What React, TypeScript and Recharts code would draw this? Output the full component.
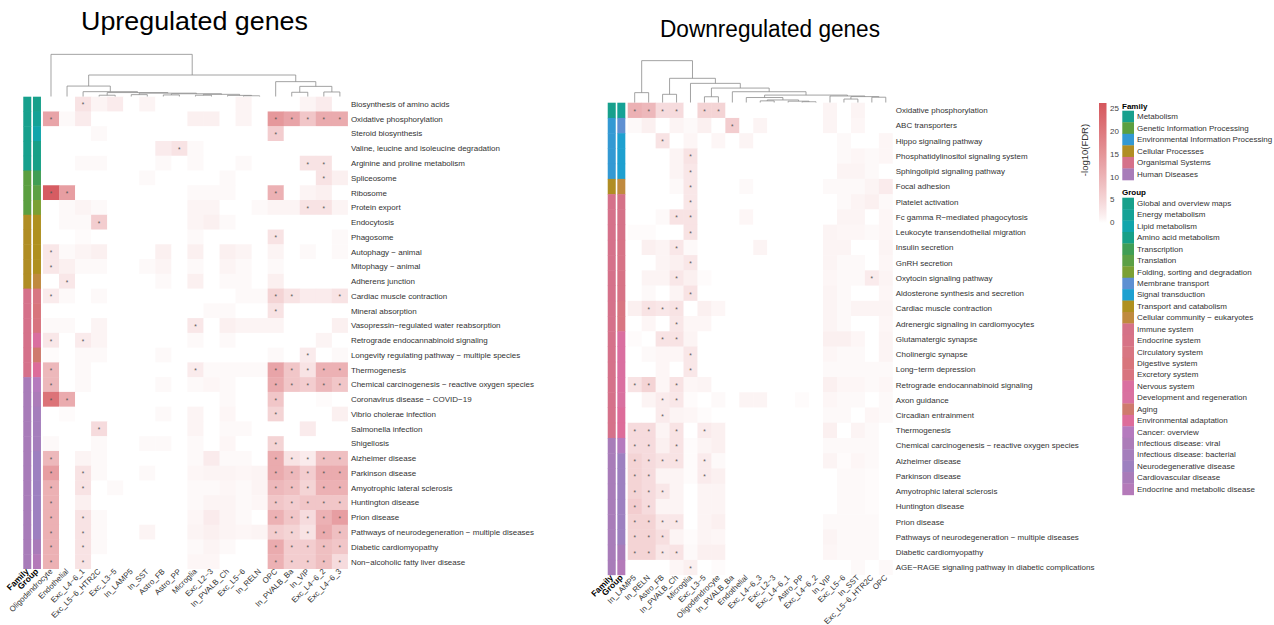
import React from 'react';
import { ScatterChart, Scatter, XAxis, YAxis, ReferenceLine } from 'recharts';

const FONT = '"Liberation Sans", Arial, Helvetica, sans-serif';
const M = '\u2212';

// ---------------- Upregulated genes ----------------
const upColumns = ['Oligodendrocyte', 'Endothelial', `Exc_L4${M}6_1`, `Exc_L5${M}6_HTR2C`, `Exc_L3${M}5`, 'In_LAMP5', 'In_SST', 'Astro_FB', 'Astro_PP', 'Microglia', `Exc_L2${M}3`, 'In_PVALB_Ch', `Exc_L5${M}6`, 'In_RELN', 'OPC', 'In_PVALB_Ba', 'In_VIP', `Exc_L4${M}6_2`, `Exc_L4${M}6_3`];

const upRows = ['Biosynthesis of amino acids', 'Oxidative phosphorylation', 'Steroid biosynthesis', 'Valine, leucine and isoleucine degradation', 'Arginine and proline metabolism', 'Spliceosome', 'Ribosome', 'Protein export', 'Endocytosis', 'Phagosome', `Autophagy ${M} animal`, `Mitophagy ${M} animal`, 'Adherens junction', 'Cardiac muscle contraction', 'Mineral absorption', `Vasopressin${M}regulated water reabsorption`, 'Retrograde endocannabinoid signaling', `Longevity regulating pathway ${M} multiple species`, 'Thermogenesis', `Chemical carcinogenesis ${M} reactive oxygen species`, `Coronavirus disease ${M} COVID${M}19`, 'Vibrio cholerae infection', 'Salmonella infection', 'Shigellosis', 'Alzheimer disease', 'Parkinson disease', 'Amyotrophic lateral sclerosis', 'Huntington disease', 'Prion disease', `Pathways of neurodegeneration ${M} multiple diseases`, 'Diabetic cardiomyopathy', `Non${M}alcoholic fatty liver disease`];

const upFamily = ['Metabolism', 'Metabolism', 'Metabolism', 'Metabolism', 'Metabolism', 'Genetic', 'Genetic', 'Genetic', 'Cellular', 'Cellular', 'Cellular', 'Cellular', 'Cellular', 'Organismal', 'Organismal', 'Organismal', 'Organismal', 'Organismal', 'Organismal', 'Human', 'Human', 'Human', 'Human', 'Human', 'Human', 'Human', 'Human', 'Human', 'Human', 'Human', 'Human', 'Human'];

const upGroup = ['Global and overview maps', 'Energy metabolism', 'Lipid metabolism', 'Amino acid metabolism', 'Amino acid metabolism', 'Transcription', 'Translation', 'Folding, sorting and degradation', 'Transport and catabolism', 'Transport and catabolism', 'Transport and catabolism', 'Transport and catabolism', `Cellular community ${M} eukaryotes`, 'Circulatory system', 'Digestive system', 'Excretory system', 'Nervous system', 'Aging', 'Environmental adaptation', 'Cancer: overview', 'Infectious disease: viral', 'Infectious disease: bacterial', 'Infectious disease: bacterial', 'Infectious disease: bacterial', 'Neurodegenerative disease', 'Neurodegenerative disease', 'Neurodegenerative disease', 'Neurodegenerative disease', 'Neurodegenerative disease', 'Neurodegenerative disease', 'Cardiovascular disease', 'Endocrine and metabolic disease'];

const upValues: number[][] = [
  [0, 0, 3, 1, 2, 0, 1, 0, 0, 0, 0, 0, 1, 0, 0, 0, 1, 2, 0],
  [12, 0.5, 2, 0, 0, 0, 0, 0, 0, 1.5, 1.5, 0, 1, 0, 14, 12, 7, 11, 11],
  [0, 0, 0, 0.5, 0, 0, 0, 0, 0, 0, 0, 0, 0, 0, 6, 0, 0, 0, 0],
  [0, 0, 0, 0, 0, 0, 0, 2, 3, 0.5, 0, 0, 0, 0, 0, 0, 0, 0, 0],
  [0, 0, 0.5, 0.5, 0, 0, 0, 0.5, 0, 0.5, 0, 0, 0.5, 0, 0, 0, 3, 3, 0],
  [0, 0, 0, 0, 0, 0, 0.5, 0, 0, 0, 0, 0.5, 0, 0, 0, 0, 0, 3, 1.5],
  [24, 13, 0, 0, 0, 0, 0, 0, 0, 0.5, 0.5, 0.5, 0, 0, 10, 0, 1, 1.5, 0],
  [0, 0.5, 1, 0.5, 0, 0, 0, 0, 0, 1, 1, 0, 0, 0.5, 1, 1, 3, 3, 1],
  [0, 0.5, 0.5, 6, 0, 0, 0, 0, 0, 1, 1.5, 0.5, 0, 0, 0, 0, 0, 0, 0],
  [0, 0, 0.3, 0, 0, 0, 0, 0, 0, 0.5, 0, 0, 0, 0, 3, 0, 0, 0, 0.5],
  [2.5, 0.5, 1, 1.5, 0, 0, 0, 1.5, 0, 1.5, 0, 1.5, 1, 0, 1, 0, 0.5, 0, 0.5],
  [2.5, 1.5, 0.5, 0.5, 0, 0, 0.5, 1, 0, 0.5, 0, 1, 0.5, 0, 0.5, 0, 0, 0, 0],
  [0, 2.5, 0, 0, 0, 0, 0, 0.5, 0, 1.5, 0, 0.5, 0.5, 0, 1.5, 0, 0, 0, 0],
  [2, 0.5, 0, 0.5, 0, 0, 0, 0, 0, 0, 0, 0, 0.5, 0.5, 5, 3, 2, 2, 3],
  [0, 0, 0, 0, 0, 0, 0, 0, 0, 0, 0.5, 0.5, 0, 0, 3, 0, 0, 0, 0],
  [0.5, 0.5, 0, 1, 0, 0, 0, 0, 0, 2.5, 0, 1.5, 1, 1, 1, 0, 0, 0, 1.5],
  [2.5, 0, 2, 1, 0, 0, 0, 0, 0, 0.5, 0, 0.5, 0, 0, 0, 0, 0, 1, 0],
  [0.3, 0, 0.5, 0.5, 0, 0, 0, 0.5, 0, 0, 0, 0, 0, 0, 0.5, 0, 2, 0, 0.5],
  [9, 0, 0.5, 0, 0, 0, 0, 0, 0, 2, 0.5, 0.5, 0.5, 0.5, 12, 7, 3, 10, 10],
  [9, 0, 0.5, 0, 0, 0, 0, 0.5, 0, 0.5, 0.8, 0.5, 0, 0, 11, 7, 6, 9, 7],
  [20, 11, 0, 0, 0, 0, 0, 0, 0, 0, 0, 0.5, 0, 0, 7, 0, 0, 0.3, 0],
  [0, 0.3, 0, 0, 0, 0, 0, 0.5, 0, 1, 0, 0.8, 0, 0, 5, 0, 0, 0, 1.5],
  [0, 0, 0, 4, 0, 0, 0, 0, 0, 1, 0, 0.5, 0.5, 0, 0, 0, 2, 0, 0],
  [0.5, 0, 0, 0.5, 0, 0, 0.5, 0.5, 0, 0.5, 0, 0.8, 0, 0, 5, 0, 0, 0, 0],
  [9, 0, 1, 0.5, 0, 0, 0, 0, 0, 0.5, 2, 0.5, 0.5, 0, 11, 3, 2, 8, 8],
  [13, 0, 3, 0.5, 0, 0, 0.5, 0, 0, 0.8, 1, 1, 0.8, 1, 11, 9, 6, 11, 11],
  [10, 0, 3, 0, 0.5, 0, 0, 0, 0, 0.5, 0.5, 0.8, 0.5, 1, 9, 8, 5, 10, 10],
  [10, 0, 1.5, 0, 0, 0, 0, 0, 0, 0.5, 1, 1, 0.5, 0.8, 7, 6, 7, 7, 7],
  [10, 0, 3, 0.5, 0, 0, 0, 0, 0, 0.8, 2, 1, 0.5, 0, 10, 7, 4, 10, 13],
  [10, 0, 3, 0.5, 0, 0, 1, 0, 0, 1, 1.5, 1, 0.8, 1, 6, 5, 3, 11, 8],
  [10, 0, 3, 0.5, 0, 0, 0, 0, 0, 0.5, 1, 0.5, 0, 0, 11, 6, 6, 8, 7],
  [10, 0, 3, 0, 0, 0, 0, 0, 0, 0.8, 0.8, 0, 0, 0, 10, 6, 6, 8, 4],
];

const upStars: number[][] = [
  [2], [0, 14, 15, 16, 17, 18], [14], [8], [16, 17], [17], [0, 1, 14], [16, 17], [3], [14], [0], [0], [1],
  [0, 14, 15, 18], [14], [9], [0, 2], [16], [0, 9, 14, 15, 16, 17, 18], [0, 14, 15, 16, 17, 18], [0, 1, 14], [14], [3], [14],
  [0, 14, 15, 16, 17, 18], [0, 2, 14, 15, 16, 17, 18], [0, 2, 14, 15, 16, 17, 18], [0, 14, 15, 16, 17, 18],
  [0, 2, 14, 15, 16, 17, 18], [0, 2, 14, 15, 16, 17, 18], [0, 2, 14, 15, 16, 17, 18], [0, 2, 14, 15, 16, 17, 18],
];

type Tree = number | [Tree, Tree, number];
// column dendrogram: [left, right, merge height]
const upTree: Tree = [0, [[1, [2, [[3, 4, 0.1], [[5, 6, 0.14], [[7, 8, 0.12], [[9, 10, 0.1], [11, [12, 13, 0.06], 0.09], 0.16], 0.2], 0.24], 0.28], 0.34], 0.72], [14, [[15, 16, 0.3], [17, 18, 0.32], 0.7], 1.02], 1.47], 2.87];

// ---------------- Downregulated genes ----------------
const downColumns = ['In_LAMP5', 'In_RELN', 'Astro_FB', 'In_PVALB_Ch', 'Microglia', `Exc_L3${M}5`, 'Oligodendrocyte', 'In_PVALB_Ba', 'Endothelial', `Exc_L4${M}6_3`, `Exc_L2${M}3`, `Exc_L4${M}6_1`, 'Astro_PP', `Exc_L4${M}6_2`, 'In_VIP', `Exc_L5${M}6`, 'In_SST', `Exc_L5${M}6_HTR2C`, 'OPC'];

const downRows = ['Oxidative phosphorylation', 'ABC transporters', 'Hippo signaling pathway', 'Phosphatidylinositol signaling system', 'Sphingolipid signaling pathway', 'Focal adhesion', 'Platelet activation', `Fc gamma R${M}mediated phagocytosis`, 'Leukocyte transendothelial migration', 'Insulin secretion', 'GnRH secretion', 'Oxytocin signaling pathway', 'Aldosterone synthesis and secretion', 'Cardiac muscle contraction', 'Adrenergic signaling in cardiomyocytes', 'Glutamatergic synapse', 'Cholinergic synapse', `Long${M}term depression`, 'Retrograde endocannabinoid signaling', 'Axon guidance', 'Circadian entrainment', 'Thermogenesis', `Chemical carcinogenesis ${M} reactive oxygen species`, 'Alzheimer disease', 'Parkinson disease', 'Amyotrophic lateral sclerosis', 'Huntington disease', 'Prion disease', `Pathways of neurodegeneration ${M} multiple diseases`, 'Diabetic cardiomyopathy', `AGE${M}RAGE signaling pathway in diabetic complications`];

const downFamily = ['Metabolism', 'Environmental', 'Environmental', 'Environmental', 'Environmental', 'Cellular', 'Organismal', 'Organismal', 'Organismal', 'Organismal', 'Organismal', 'Organismal', 'Organismal', 'Organismal', 'Organismal', 'Organismal', 'Organismal', 'Organismal', 'Organismal', 'Organismal', 'Organismal', 'Organismal', 'Human', 'Human', 'Human', 'Human', 'Human', 'Human', 'Human', 'Human', 'Human'];

const downGroup = ['Energy metabolism', 'Membrane transport', 'Signal transduction', 'Signal transduction', 'Signal transduction', `Cellular community ${M} eukaryotes`, 'Immune system', 'Immune system', 'Immune system', 'Endocrine system', 'Endocrine system', 'Endocrine system', 'Endocrine system', 'Circulatory system', 'Circulatory system', 'Nervous system', 'Nervous system', 'Nervous system', 'Nervous system', 'Development and regeneration', 'Environmental adaptation', 'Environmental adaptation', 'Cancer: overview', 'Neurodegenerative disease', 'Neurodegenerative disease', 'Neurodegenerative disease', 'Neurodegenerative disease', 'Neurodegenerative disease', 'Neurodegenerative disease', 'Cardiovascular disease', 'Endocrine and metabolic disease'];

const downValues: number[][] = [
  [10, 9, 4, 4, 0, 5, 5, 0, 0, 0, 0, 0, 0, 0, 1, 0, 1, 0, 0],
  [0.5, 1.5, 0, 1, 0.5, 1.5, 0, 6, 0, 1, 0, 0, 0, 0, 1, 0, 0.8, 0, 0],
  [0, 0, 3, 0, 0.8, 0, 0.8, 0, 1, 0, 0, 0, 0, 0, 0, 0.5, 0, 0, 0.8],
  [0, 0, 0, 1, 3, 0, 0, 0, 0, 0, 0, 0, 0, 0, 0, 0.5, 0.8, 0.5, 0.8],
  [0, 0, 0, 1, 2.5, 0, 0, 0, 0, 0, 0, 0, 0, 0, 0, 1, 1, 0.5, 0],
  [0, 0, 0, 0.5, 2.5, 0, 0, 0, 0.5, 0, 0, 0, 0, 0, 0.5, 0.5, 0.5, 1, 2],
  [0, 0, 0, 0, 2.5, 0, 0, 0, 0, 0, 0, 0, 0, 0, 0, 0.5, 1, 1.5, 0.5],
  [0, 0, 0.5, 3, 3, 0, 0, 0, 0.8, 0, 0, 0, 0, 0, 0, 1, 1, 0, 0.8],
  [0.3, 0.3, 0, 0, 3, 0, 0, 0, 0, 0, 0, 0, 0, 0, 1, 0.8, 0.8, 0.5, 0.8],
  [0, 1.5, 1, 2.5, 0.5, 0, 0, 0, 0, 1, 0, 0, 0, 0, 1, 1, 0, 0, 1],
  [0, 0, 1, 1.5, 2.5, 0, 0, 0, 0, 0, 0, 0, 0, 0, 1, 0.5, 0.5, 0, 0.8],
  [0, 1, 1, 2.5, 1.5, 0.3, 0, 0, 0, 0, 0, 0, 0, 0, 0.8, 0.5, 0.5, 2, 1],
  [0, 0.5, 0, 1, 3, 0, 0, 0, 0, 0, 0, 0, 0, 0, 1, 0.5, 0, 0, 0.8],
  [1.5, 3, 2.5, 3, 0, 1.5, 0.8, 0, 0, 0, 0, 0, 0, 0, 1, 0.5, 1, 1, 1],
  [0, 0.8, 0, 2.5, 0.8, 0.8, 0, 0, 0, 0, 0, 0, 0, 0, 1, 0.5, 0, 0, 0.8],
  [0.3, 0, 3, 3, 1, 0, 0, 0, 0, 0, 0, 0, 0, 0, 1.5, 1.5, 0.8, 0, 1],
  [0, 0.5, 0.8, 0.8, 2.5, 0, 0, 0, 0, 0, 0, 0, 0, 0, 0.8, 0.5, 0.5, 0, 1],
  [0, 0, 0.8, 0, 2.5, 0, 0, 0, 0, 0, 0, 0, 0, 0, 0.5, 0.5, 0.5, 0.5, 0.5],
  [3, 5, 0.8, 3, 0.8, 1, 0, 0, 0, 0, 0, 0, 0, 0, 1.5, 0.8, 0.8, 0.5, 0.8],
  [0, 1, 2, 2.5, 0.3, 0, 0.5, 0, 1, 1, 0, 0, 0.3, 0, 0.8, 0.5, 0.5, 0, 0.5],
  [0, 0, 2, 1, 0.8, 0.3, 0, 0, 0, 0, 0, 0, 0, 0, 0.5, 0.5, 0, 0.8, 0.5],
  [4, 4, 1, 3, 0, 2, 1.5, 0, 0, 0, 0, 0, 0, 0, 1.5, 0, 1, 0.5, 0],
  [4, 4, 1.5, 3, 0.3, 1, 1.5, 0, 0, 0, 0, 0, 0, 0, 0.5, 0.5, 0.5, 0.5, 0],
  [5, 4, 3, 3, 0.3, 2, 0.5, 0, 0, 0, 0, 0, 0, 0, 1, 0.3, 0.8, 0.5, 0],
  [5, 4, 1, 1, 0.3, 2, 1.5, 0, 0, 0, 0, 0, 0, 0, 0, 0.5, 0.5, 0.3, 0],
  [5, 4, 2.5, 1, 0, 1, 1, 0, 0, 0, 0, 0, 0, 0, 0, 0.5, 0.5, 0.3, 0],
  [6, 4, 1, 1, 0, 1, 1, 0, 0, 0, 0, 0, 0, 0, 0, 0.5, 0.5, 0.3, 0],
  [5, 5, 2.5, 2.5, 0, 1, 1.5, 0, 0, 0, 0, 0, 0, 0, 0.5, 0.5, 0.5, 0.5, 0],
  [5, 5, 3.5, 1, 0.3, 1, 0.8, 0, 0, 0, 0, 0, 0, 0, 1, 0.5, 0.5, 0.5, 0],
  [5, 5, 2.5, 3, 0.5, 1.5, 1.5, 0, 0, 0, 0, 0, 0, 0, 0.8, 0.5, 0.5, 0.5, 0],
  [0, 0, 0, 0.8, 1.5, 0, 0.3, 0, 0, 0, 0, 0, 0, 0, 0, 0, 0.5, 0, 0.5],
];

const downStars: number[][] = [
  [0, 1, 2, 3, 5, 6], [7], [2], [4], [4], [4], [4], [3, 4], [4], [3], [4], [3, 17], [4], [1, 2, 3], [3], [2, 3],
  [4], [4], [0, 1, 3], [2, 3], [2], [0, 1, 3, 5], [0, 1, 3], [0, 1, 2, 3, 5], [0, 1, 5], [0, 1, 2], [0, 1],
  [0, 1, 2, 3], [0, 1, 2], [0, 1, 2, 3], [4],
];

const downTree: Tree = [[0, 1, 0.66], [[2, 3, 0.55], [4, [[5, 6, 0.39], [7, [[8, [[9, 10, 0.12], [11, [12, 13, 0.06], 0.1], 0.18], 0.34], [14, [[15, 16, 0.24], [17, 18, 0.36], 0.4], 0.44], 0.5], 0.72], 0.96], 1.27], 1.6], 2.76];

// ---------------- Annotation legends ----------------
const familyKeys = ['Metabolism', 'Genetic', 'Environmental', 'Cellular', 'Organismal', 'Human'];
const familyLabels = ['Metabolism', 'Genetic Information Processing', 'Environmental Information Processing', 'Cellular Processes', 'Organismal Systems', 'Human Diseases'];
const familyColors = ['#17A08D', '#5B9F40', '#3399D3', '#B08D24', '#D5718A', '#A87CB9'];

const groupLabels = ['Global and overview maps', 'Energy metabolism', 'Lipid metabolism', 'Amino acid metabolism', 'Transcription', 'Translation', 'Folding, sorting and degradation', 'Membrane transport', 'Signal transduction', 'Transport and catabolism', `Cellular community ${M} eukaryotes`, 'Immune system', 'Endocrine system', 'Circulatory system', 'Digestive system', 'Excretory system', 'Nervous system', 'Development and regeneration', 'Aging', 'Environmental adaptation', 'Cancer: overview', 'Infectious disease: viral', 'Infectious disease: bacterial', 'Neurodegenerative disease', 'Cardiovascular disease', 'Endocrine and metabolic disease'];
const groupColors = ['#18A08B', '#15A296', '#11A5AB', '#17A087', '#409E55', '#5CA045', '#7BA034', '#5E90D2', '#1EA0D0', '#AF901F', '#C08A3F', '#D57288', '#D77386', '#D87682', '#D8757C', '#D8747F', '#DA6FA0', '#D971A0', '#CF7A6D', '#DD6C9A', '#B57ABE', '#AC7CB9', '#A57EBC', '#9D80C0', '#A97BB9', '#B47AB9'];

const colorTicks = [0, 5, 10, 15, 20, 25];

// ---------------- helpers ----------------
const famColor = (k: string) => familyColors[familyKeys.indexOf(k)];
const grpColor = (k: string) => groupColors[groupLabels.indexOf(k)];

const LOW = [255, 255, 255];
const HIGH = [213, 86, 92];
function heatColor(v: number) {
  const t = Math.min(1, Math.pow(Math.max(0, v) / 25, 0.85));
  const c = LOW.map((l, i) => Math.round(l + (HIGH[i] - l) * t));
  return `rgb(${c[0]},${c[1]},${c[2]})`;
}

type Seg = [number, number, number, number];
function walk(t: Tree, segs: Seg[]): { x: number; h: number } {
  if (typeof t === 'number') return { x: t + 0.5, h: 0 };
  const a = walk(t[0], segs);
  const b = walk(t[1], segs);
  const h = t[2];
  segs.push([a.x, -a.h, a.x, -h]);
  segs.push([b.x, -b.h, b.x, -h]);
  segs.push([a.x, -h, b.x, -h]);
  return { x: (a.x + b.x) / 2, h };
}

type Geo = {
  divLeft: number; plotLeft: number; plotTop: number; colW: number; rowH: number;
  xMin: number; yMin: number; famX: number; grpX: number; barW: number; labelW: number;
};

function HeatPanel(props: {
  columns: string[]; rows: string[]; values: number[][]; stars: number[][];
  family: string[]; group: string[]; tree: Tree; geo: Geo;
}) {
  const { columns, rows, values, stars, family, group, tree, geo } = props;
  const ncol = columns.length;
  const nrow = rows.length;
  const plotW = (ncol - geo.xMin) * geo.colW;
  const plotH = (nrow - geo.yMin) * geo.rowH;
  const xAxisH = 625 - (geo.plotTop + plotH);
  const marginLeft = geo.plotLeft - geo.divLeft;
  const width = marginLeft + plotW + geo.labelW;

  const cells: { x: number; y: number; v: number }[] = [];
  rows.forEach((_, r) => columns.forEach((_, c) => cells.push({ x: c + 0.5, y: r + 0.5, v: values[r][c] })));
  const starPts: { x: number; y: number }[] = [];
  stars.forEach((list, r) => list.forEach((c) => starPts.push({ x: c + 0.5, y: r + 0.5 })));
  const famPts = family.map((f, r) => ({ x: geo.famX, y: r + 0.5, fill: famColor(f) }));
  const grpPts = group.map((g, r) => ({ x: geo.grpX, y: r + 0.5, fill: grpColor(g) }));
  const segs: Seg[] = [];
  walk(tree, segs);

  const xTicks = [geo.famX, geo.grpX, ...columns.map((_, i) => i + 0.5)];
  const yTicks = rows.map((_, i) => i + 0.5);

  const cw = geo.colW;
  const rh = geo.rowH;

  const cellShape = (p: any) => (
    <rect x={p.cx - cw / 2} y={p.cy - rh / 2} width={cw + 0.4} height={rh + 0.4} fill={heatColor(p.payload.v)} />
  );
  const barShape = (p: any) => (
    <rect x={p.cx - geo.barW / 2} y={p.cy - rh / 2} width={geo.barW} height={rh + 0.5} fill={p.payload.fill} />
  );
  const starShape = (p: any) => (
    <text x={p.cx} y={p.cy + 3.4} textAnchor="middle" fontSize={6.5} fill="#555" fontFamily={FONT}>*</text>
  );

  const XTick = (p: any) => {
    const v = p.payload.value;
    let label = '';
    let bold = false;
    if (Math.abs(v - geo.famX) < 1e-6) { label = 'Family'; bold = true; }
    else if (Math.abs(v - geo.grpX) < 1e-6) { label = 'Group'; bold = true; }
    else label = columns[Math.round(v - 0.5)];
    const tx = p.x + 2;
    const ty = p.y + 3;
    return (
      <text x={tx} y={ty} transform={`rotate(-45, ${tx}, ${ty})`} textAnchor="end" fontSize={bold ? 8.5 : 7.9}
        fontWeight={bold ? 'bold' : 'normal'} fill={bold ? '#000' : '#333'} fontFamily={FONT}>{label}</text>
    );
  };
  const YTick = (p: any) => {
    const v = p.payload.value;
    return (
      <text x={p.x + 3} y={p.y + 2.9} textAnchor="start" fontSize={8} fill="#333" fontFamily={FONT}>
        {rows[Math.round(v - 0.5)]}
      </text>
    );
  };

  return (
    <div style={{ position: 'absolute', left: geo.divLeft, top: 0 }}>
      <ScatterChart width={width} height={625} margin={{ top: geo.plotTop, right: 0, bottom: 0, left: marginLeft }}>
        <XAxis type="number" dataKey="x" domain={[geo.xMin, ncol]} ticks={xTicks} interval={0} allowDataOverflow
          axisLine={false} tickLine={false} tickSize={0} tickMargin={0} height={xAxisH} tick={XTick} />
        <YAxis type="number" dataKey="y" orientation="right" reversed domain={[geo.yMin, nrow]} ticks={yTicks}
          interval={0} allowDataOverflow axisLine={false} tickLine={false} tickSize={0} tickMargin={0}
          width={geo.labelW} tick={YTick} />
        <Scatter data={cells} shape={cellShape} isAnimationActive={false} />
        <Scatter data={famPts} shape={barShape} isAnimationActive={false} />
        <Scatter data={grpPts} shape={barShape} isAnimationActive={false} />
        <Scatter data={starPts} shape={starShape} isAnimationActive={false} />
        {segs.map((s, i) => (
          <ReferenceLine key={i} segment={[{ x: s[0], y: s[1] }, { x: s[2], y: s[3] }]}
            stroke="#8c8c8c" strokeWidth={0.8} ifOverflow="visible" />
        ))}
      </ScatterChart>
    </div>
  );
}

const upGeo: Geo = {
  divLeft: 0, plotLeft: 21.3, plotTop: 96.7 - 2.95 * 14.76, colW: 16.05, rowH: 14.76,
  xMin: -1.35, yMin: -2.95, famX: -0.978, grpX: -0.374, barW: 8, labelW: 200,
};
const downGeo: Geo = {
  divLeft: 560, plotLeft: 606.8, plotTop: 102.7 - 2.85 * 15.24, colW: 13.95, rowH: 15.24,
  xMin: -1.5, yMin: -2.85, famX: -1.147, grpX: -0.459, barW: 8, labelW: 215,
};

function Decorations() {
  const cbTop = 103;
  const cbBottom = 223;
  const v2y = (v: number) => 222.3 - v * 4.58;
  const famY0 = 110.7;
  const famStep = 11.55;
  const grpY0 = 197.7;
  const grpStep = 11.43;
  const stops = Array.from({ length: 26 }, (_, i) => i);
  return (
    <svg width={1274} height={625} style={{ position: 'absolute', left: 0, top: 0 }}>
      <defs>
        <linearGradient id="cb" x1="0" y1="1" x2="0" y2="0">
          {stops.map((v) => (
            <stop key={v} offset={`${(v / 25) * 100}%`} stopColor={heatColor(v)} />
          ))}
        </linearGradient>
      </defs>
      <text x={194.5} y={29.5} textAnchor="middle" fontSize={25} textLength={227} lengthAdjust="spacingAndGlyphs"
        fontFamily={FONT} fill="#000">Upregulated genes</text>
      <text x={770} y={37} textAnchor="middle" fontSize={23} textLength={220} lengthAdjust="spacingAndGlyphs"
        fontFamily={FONT} fill="#000">Downregulated genes</text>

      <rect x={1099} y={cbTop} width={7.5} height={cbBottom - cbTop} fill="url(#cb)" />
      {colorTicks.map((t) => (
        <text key={t} x={1110} y={v2y(t) + 3} fontSize={8} fill="#444" fontFamily={FONT}>{t}</text>
      ))}
      <text x={1088} y={150} transform="rotate(-90, 1088, 150)" textAnchor="middle" fontSize={9.5} fill="#333" fontFamily={FONT}>-log10(FDR)</text>

      <text x={1122} y={108.5} fontSize={8} fontWeight="bold" fill="#000" fontFamily={FONT}>Family</text>
      {familyLabels.map((l, i) => (
        <g key={l}>
          <rect x={1122.3} y={famY0 + i * famStep} width={11.7} height={famStep + 0.3} fill={familyColors[i]} />
          <text x={1137} y={famY0 + i * famStep + 8.4} fontSize={8} fill="#333" fontFamily={FONT}>{l}</text>
        </g>
      ))}
      <text x={1122} y={195.2} fontSize={8} fontWeight="bold" fill="#000" fontFamily={FONT}>Group</text>
      {groupLabels.map((l, i) => (
        <g key={l}>
          <rect x={1122.3} y={grpY0 + i * grpStep} width={11.7} height={grpStep + 0.3} fill={groupColors[i]} />
          <text x={1137} y={grpY0 + i * grpStep + 8.3} fontSize={8} fill="#333" fontFamily={FONT}>{l}</text>
        </g>
      ))}
    </svg>
  );
}

export default function App() {
  return (
    <div style={{ position: 'absolute', left: 0, top: 0, width: 1274, height: 625, background: '#fff', overflow: 'hidden', fontFamily: FONT }}>
      <Decorations />
      <HeatPanel columns={upColumns} rows={upRows} values={upValues} stars={upStars} family={upFamily} group={upGroup} tree={upTree} geo={upGeo} />
      <HeatPanel columns={downColumns} rows={downRows} values={downValues} stars={downStars} family={downFamily} group={downGroup} tree={downTree} geo={downGeo} />
    </div>
  );
}
